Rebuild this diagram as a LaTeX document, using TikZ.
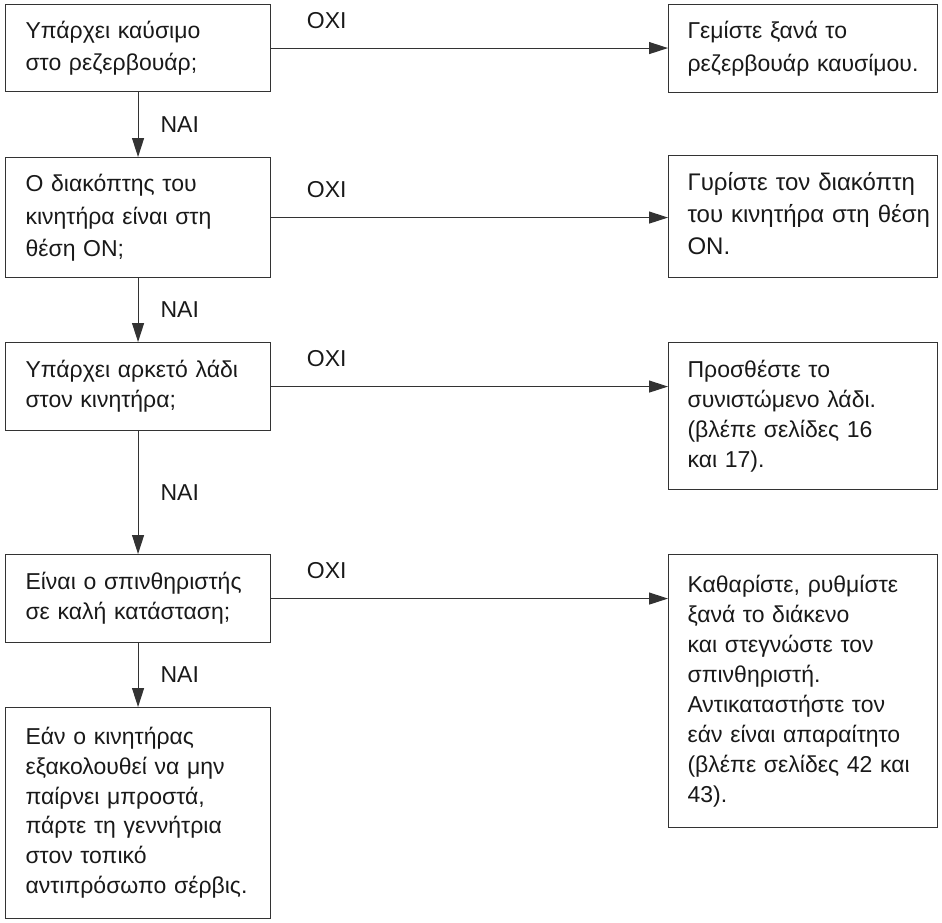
\documentclass[tikz,border=0pt]{standalone}
\usepackage{fontspec}
\setmainfont{Liberation Sans}
\usetikzlibrary{arrows.meta}

% lines of a box, kept as written
\newcommand{\lines}[1]{\begin{tabular}{@{}l@{}}#1\end{tabular}}

\begin{document}
\begin{tikzpicture}[x=1pt, y=-1pt, font=\fontsize{23}{30}\selectfont,
  box/.style={draw=black!80, line width=1.1pt, anchor=north west, align=left, inner ysep=0pt, text=black!90},
  qbox/.style={box, text width=225pt, inner xsep=20pt},
  abox/.style={box, text width=231pt, inner xsep=19pt},
  loose/.style={font=\fontsize{23}{32.5}\selectfont},
  arr/.style={draw=black!80, line width=1.1pt, -{Triangle[length=19pt, width=12pt]}},
  yes/.style={right=22pt, inner sep=0pt, text=black!90},
  no/.style={above=19pt, inner sep=0pt, text=black!90}]
  \useasboundingbox (0,0) rectangle (942,922);
  % ερωτήσεις
  \node[qbox, loose, minimum height=87pt] (q1) at (5,4) {\lines{Υπάρχει καύσιμο\\στο ρεζερβουάρ;}};
  \node[qbox, loose, minimum height=120pt] (q2) at (5,157) {\lines{Ο διακόπτης του\\κινητήρα είναι στη\\θέση ON;}};
  \node[qbox, minimum height=88pt] (q3) at (5,342) {\lines{Υπάρχει αρκετό λάδι\\στον κινητήρα;}};
  \node[qbox, minimum height=88pt] (q4) at (5,554) {\lines{Είναι ο σπινθηριστής\\σε καλή κατάσταση;}};
  \node[qbox, font=\fontsize{23}{29.8}\selectfont, minimum height=211pt] (q5) at (5,707) {\lines{Εάν ο κινητήρας\\εξακολουθεί να μην\\παίρνει μπροστά,\\πάρτε τη γεννήτρια\\στον τοπικό\\αντιπρόσωπο σέρβις.}};
  % ενέργειες
  \node[abox, loose, minimum height=88pt] (a1) at (668,4) {\lines{Γεμίστε ξανά το\\ρεζερβουάρ καυσίμου.}};
  \node[abox, font=\fontsize{24}{32}\selectfont, minimum height=122pt] (a2) at (668,155) {\lines{Γυρίστε τον διακόπτη\\του κινητήρα στη θέση\\ON.}};
  \node[abox, minimum height=147pt] (a3) at (668,342) {\lines{Προσθέστε το\\συνιστώμενο λάδι.\\(βλέπε σελίδες 16\\και 17).}};
  \node[abox, minimum height=273pt] (a4) at (668,554) {\lines{Καθαρίστε, ρυθμίστε\\ξανά το διάκενο\\και στεγνώστε τον\\σπινθηριστή.\\Αντικαταστήστε τον\\εάν είναι απαραίτητο\\(βλέπε σελίδες 42 και\\43).}};
  % ΝΑΙ
  \foreach \a/\b in {q1/q2, q2/q3, q3/q4, q4/q5}
    \draw[arr] (\a.south) -- node[yes] (y-\a) {ΝΑΙ} (\b.north);
  % ΟΧΙ
  \foreach \q/\r in {q1/a1, q2/a2, q3/a3, q4/a4}
    \draw[arr] (\q.east) -- node[pos=0.14, no] (n-\q) {ΟΧΙ} (\q.east -| \r.west);
\end{tikzpicture}
\end{document}
